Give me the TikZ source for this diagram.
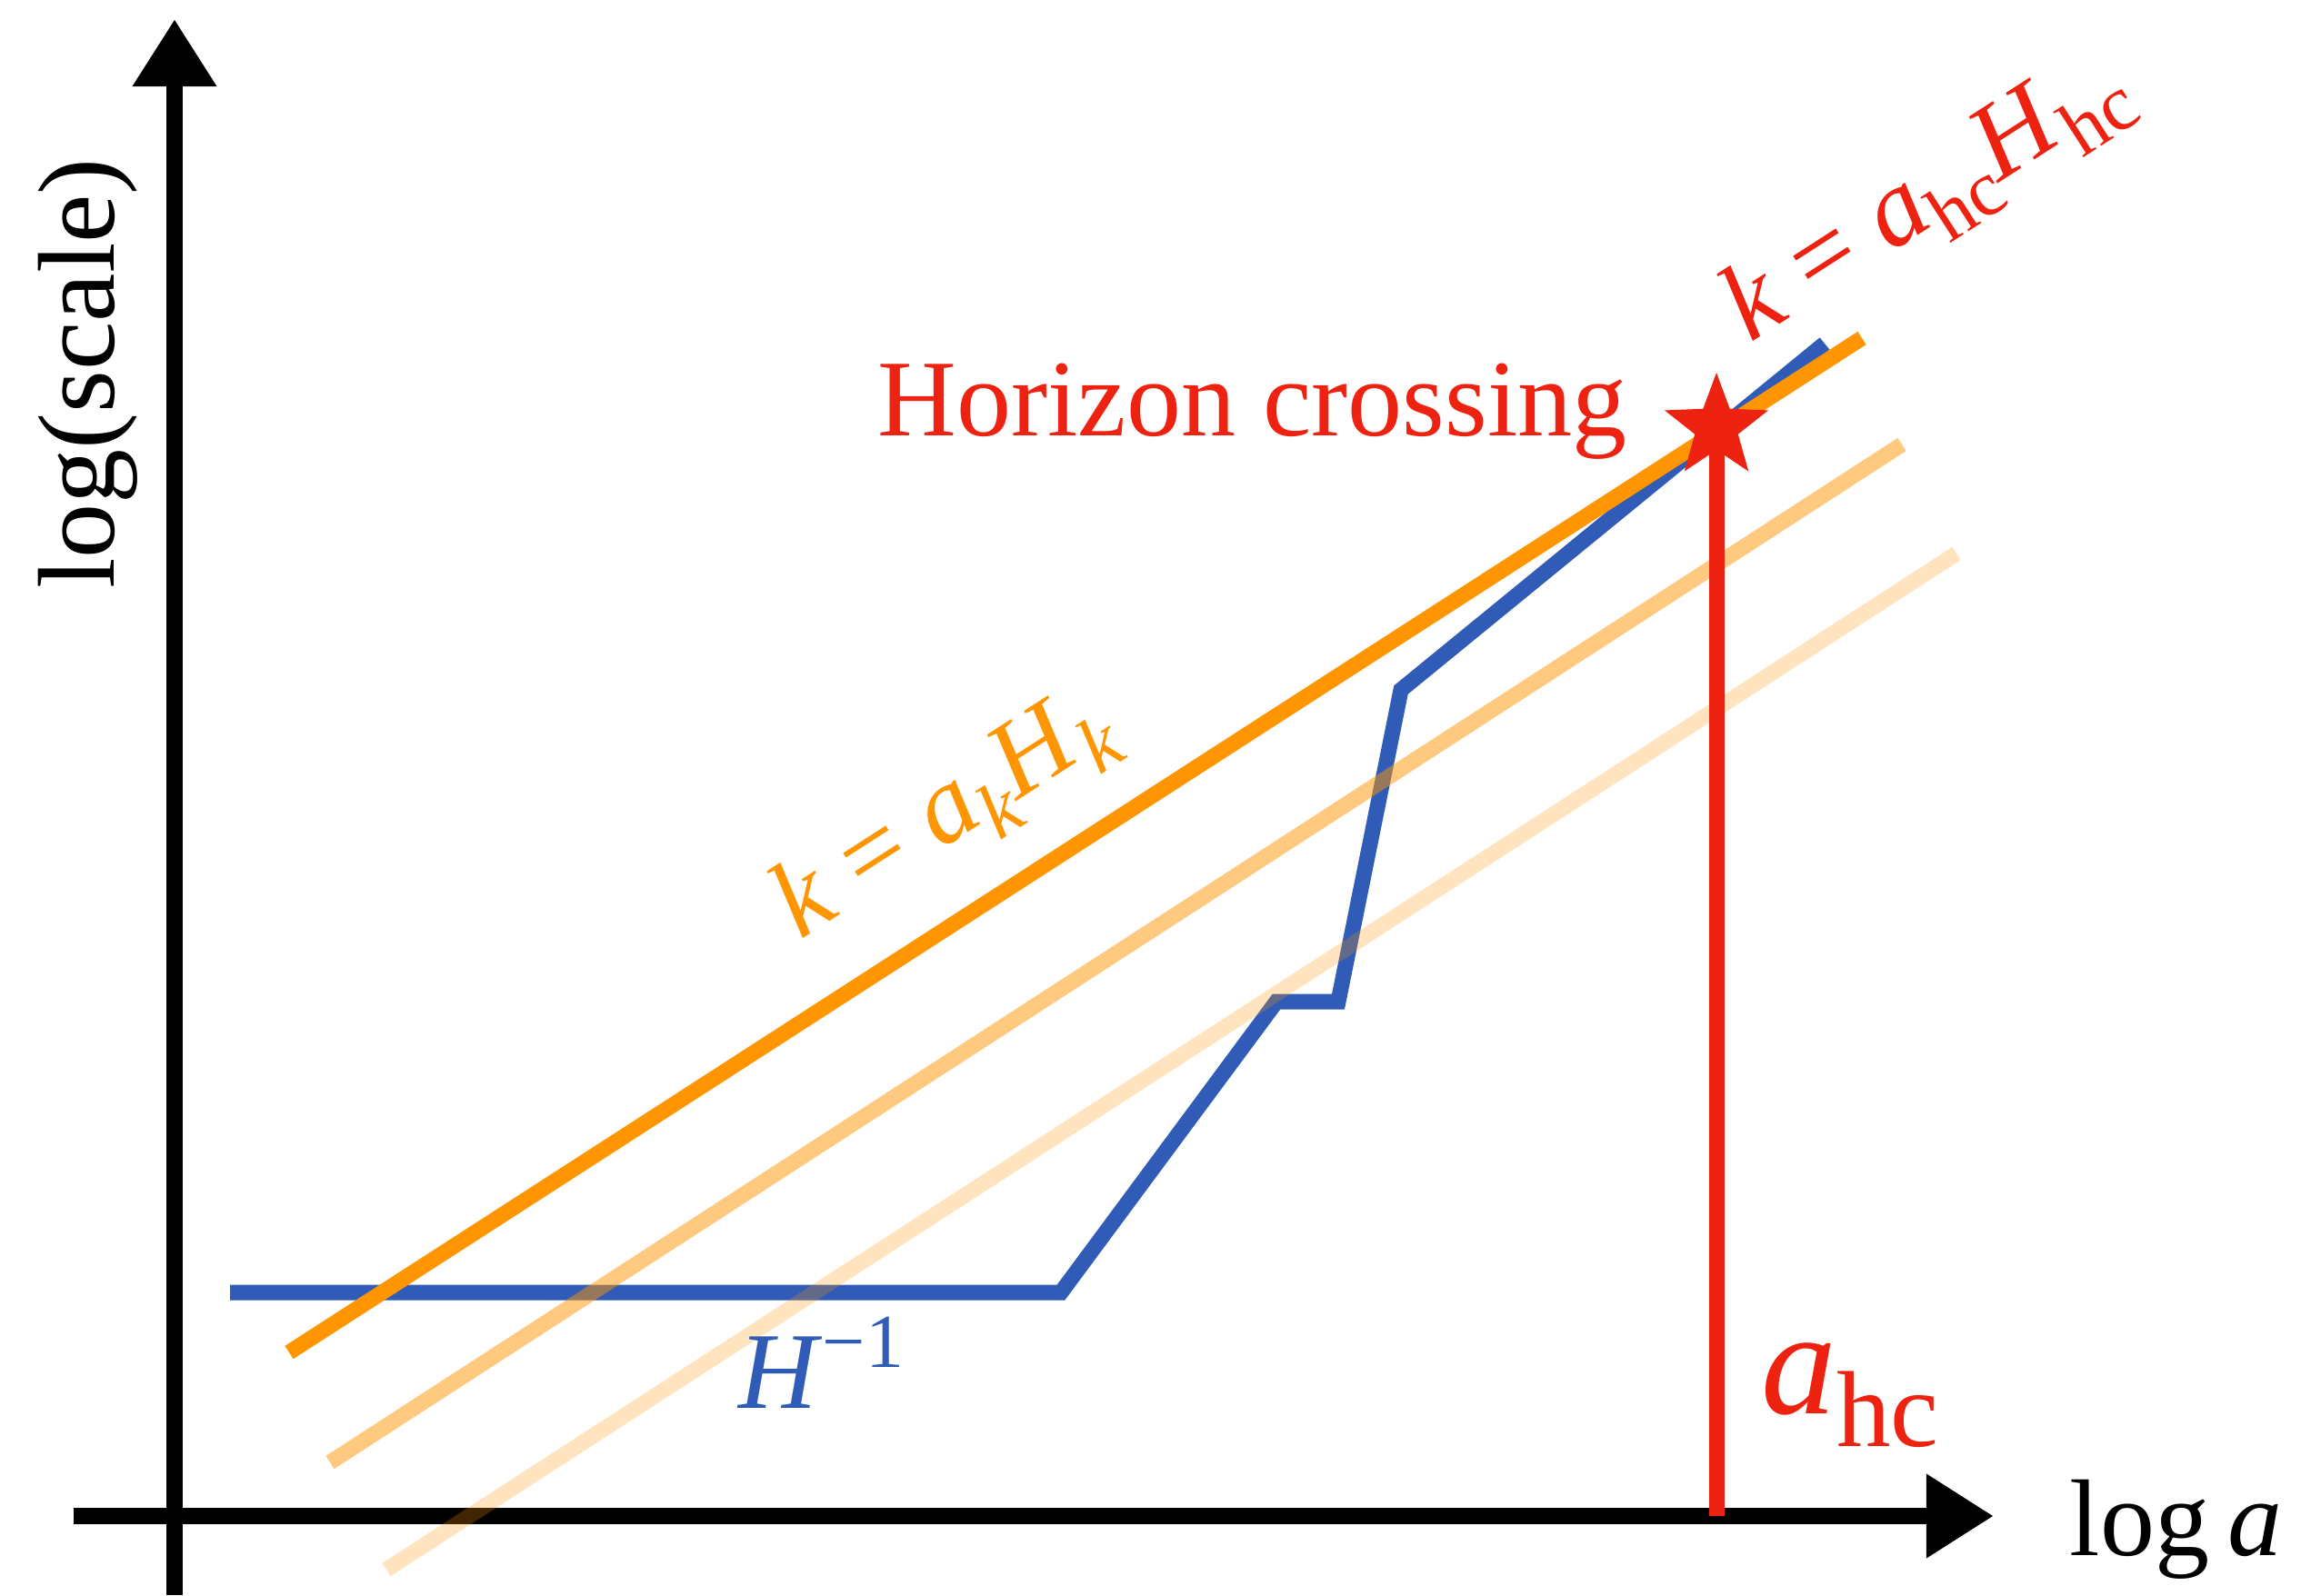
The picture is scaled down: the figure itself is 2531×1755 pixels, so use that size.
\documentclass[tikz,border=0pt]{standalone}
\usepackage{fontspec}
\setmainfont{Liberation Serif}
\usepackage{graphicx}
\usetikzlibrary{arrows.meta}
\definecolor{hcred}{RGB}{238,34,17}
\definecolor{korange}{RGB}{255,149,0}
\definecolor{hblue}{RGB}{48,92,184}
\newcommand{\lowidx}[1]{\raisebox{-.22em}{\scalebox{.72}{#1}}}
\newcommand{\upidx}[1]{\raisebox{.37em}{\scalebox{.7}{#1}}}

\begin{document}
\begin{tikzpicture}[x=0.01cm,y=-0.01cm,
    axis/.style={line width=0.18cm,-{Triangle[length=0.73cm,width=0.93cm,line width=0pt]}},
    chalk/.style={line width=0.17cm},
    lbl/.style={inner sep=0,font=\fontsize{34.15}{40}\selectfont}]
  \useasboundingbox (0,0) rectangle (2531,1755);
  \coordinate (xl) at (81,1668);
  \coordinate (xr) at (2192,1668);
  \coordinate (yb) at (192,1755);
  \coordinate (yt) at (192,22);
  \draw[axis] (xl) -- (xr);
  \draw[axis] (yb) -- (yt);
  \node[lbl,anchor=base west] (loga) at (2276,1711) {log\,\textit{a}};
  \node[lbl,anchor=base,rotate=90] (logscale) at (125,411) {log(scale)};

  \coordinate (b1) at (253,1422);
  \coordinate (b2) at (1167,1422);
  \coordinate (b3) at (1404,1102);
  \coordinate (b4) at (1472,1102);
  \coordinate (b5) at (1541,759);
  \coordinate (b6) at (2007,378);
  \draw[chalk,hblue] (b1) -- (b2) -- (b3) -- (b4) -- (b5) -- (b6);

  \coordinate (k1a) at (318,1488);
  \coordinate (k1b) at (2048,372);
  \coordinate (k2a) at (363,1609);
  \coordinate (k2b) at (2092,489);
  \coordinate (k3a) at (425,1727);
  \coordinate (k3b) at (2152,609);
  \draw[chalk,korange,draw opacity=.25] (k3a) -- (k3b);
  \draw[chalk,korange,draw opacity=.5] (k2a) -- (k2b);
  \draw[chalk,korange] (k1a) -- (k1b);

  \coordinate (hc) at (1888,470);
  \coordinate (hcfoot) at (1888,1668);
  \draw[chalk,hcred] (hc) -- (hcfoot);
  \fill[hcred,shift={(hc)}] (-90:60)
    \foreach \a/\r in {-54/25,-18/60,18/25,54/60,90/25,126/60,162/25,198/60,234/25} {-- (\a:\r)} -- cycle;

  \node[lbl,anchor=base west,text=hcred] (hctext) at (965,479) {Horizon crossing};
  \node[lbl,anchor=base west,rotate=32.8,text=hcred] (hceq) at (1925,378)
    {\textit{k} = \textit{a}\lowidx{hc}\textit{H}\lowidx{hc}};
  \node[lbl,anchor=base west,rotate=32.8,text=korange] (keq) at (880,1035)
    {\textit{k} = \textit{a}\lowidx{\textit{k}}\textit{H}\lowidx{\textit{k}}};
  \node[lbl,anchor=base west,text=hblue] (hinv) at (812,1549) {\textit{H}\upidx{−1}};
  \node[inner sep=0,anchor=base west,text=hcred,font=\fontsize{47}{52}\selectfont] (ahc) at (1937,1555)
    {\textit{a}\lowidx{hc}};
\end{tikzpicture}
\end{document}
